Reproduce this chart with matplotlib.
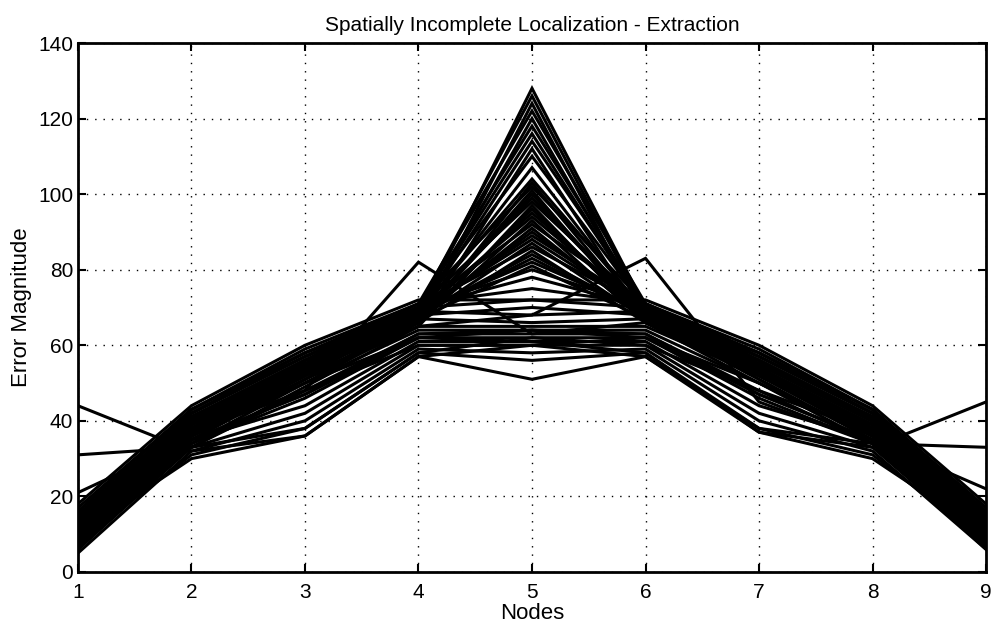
"""Spatially incomplete localization - extraction error curves over 9 nodes."""
import matplotlib

matplotlib.use("Agg")
import matplotlib.pyplot as plt  # noqa: E402

nodes = [1, 2, 3, 4, 5, 6, 7, 8, 9]

# curves with a sharp peak at node 5
peak_curves = [
    [9, 36, 52, 68, 128, 70, 54, 38, 10],
    [11, 38, 54, 70, 126, 69, 53, 37, 12],
    [7, 34, 50, 66, 124, 67, 51, 35, 8],
    [13, 40, 56, 71, 122, 71, 56, 40, 14],
    [8, 35, 51, 67, 120, 68, 52, 36, 9],
    [15, 42, 57, 70, 118, 70, 57, 42, 16],
    [10, 37, 53, 69, 116, 69, 53, 38, 11],
    [12, 39, 55, 68, 114, 70, 55, 40, 12],
    [6, 33, 49, 65, 112, 66, 50, 34, 7],
    [14, 41, 56, 70, 110, 70, 56, 41, 15],
    [9, 36, 52, 68, 107, 68, 52, 37, 10],
    [11, 38, 54, 69, 104, 69, 54, 38, 12],
    [12, 39, 54, 66, 103, 67, 54, 39, 12],
    [16, 43, 58, 71, 102, 71, 58, 43, 17],
    [13, 40, 55, 67, 101, 66, 55, 40, 13],
    [10, 37, 53, 67, 100, 68, 53, 37, 10],
    [11, 38, 54, 68, 99, 68, 54, 38, 11],
    [13, 40, 55, 70, 98, 70, 55, 40, 13],
    [9, 36, 52, 65, 97, 66, 52, 36, 9],
    [8, 35, 51, 66, 96, 67, 51, 35, 9],
    [14, 41, 56, 68, 95, 69, 56, 41, 14],
    [12, 39, 54, 69, 94, 69, 54, 39, 12],
    [10, 37, 53, 66, 93, 66, 53, 37, 10],
    [15, 42, 57, 70, 92, 71, 57, 42, 15],
    [11, 38, 53, 67, 91, 67, 53, 38, 11],
    [9, 36, 52, 68, 90, 68, 52, 36, 9],
    [13, 40, 55, 69, 89, 70, 55, 40, 13],
    [11, 38, 53, 69, 88, 69, 53, 38, 11],
    [12, 39, 54, 67, 87, 67, 54, 39, 12],
    [14, 41, 56, 70, 86, 70, 56, 41, 14],
    [10, 37, 53, 66, 85, 66, 53, 37, 10],
    [10, 37, 52, 68, 84, 68, 52, 37, 10],
    [13, 40, 55, 68, 83, 68, 55, 40, 13],
    [12, 40, 55, 69, 82, 69, 55, 40, 12],
    [11, 39, 54, 67, 81, 67, 54, 39, 11],
    [13, 41, 55, 70, 80, 70, 55, 41, 13],
]

# curves that stay flat-ish between nodes 4 and 6
plateau_curves = [
    [14, 42, 58, 70, 78, 70, 58, 42, 14],
    [16, 43, 59, 71, 75, 71, 59, 43, 16],
    [18, 44, 60, 72, 72, 72, 60, 44, 18],
    [15, 42, 57, 70, 72, 70, 57, 42, 15],
    [12, 40, 55, 68, 70, 68, 55, 40, 12],
    [17, 43, 58, 69, 68, 69, 58, 43, 17],
    [13, 41, 56, 67, 66, 67, 56, 41, 13],
    [10, 38, 52, 65, 65, 65, 52, 38, 10],
    [8, 36, 50, 64, 64, 64, 50, 36, 8],
    [11, 37, 48, 63, 63, 63, 48, 37, 11],
    [6, 34, 46, 62, 62, 62, 46, 34, 6],
    [9, 35, 44, 61, 61, 61, 44, 35, 9],
    [7, 33, 42, 60, 60, 60, 42, 33, 7],
    [5, 32, 40, 59, 58, 59, 40, 32, 6],
    [8, 31, 38, 58, 56, 58, 38, 31, 8],
    [10, 30, 36, 57, 51, 57, 37, 30, 10],
]

# odd ones: side peaks at node 4 / 6 and raised end points
outlier_curves = [
    [9, 33, 48, 82, 63, 66, 52, 37, 10],
    [10, 36, 51, 65, 68, 83, 45, 34, 9],
    [44, 32, 36, 57, 60, 62, 50, 36, 10],
    [31, 33, 38, 58, 62, 60, 48, 34, 8],
    [21, 35, 47, 62, 64, 63, 47, 35, 11],
    [10, 36, 50, 62, 61, 58, 37, 33, 45],
    [8, 34, 48, 60, 60, 57, 38, 34, 33],
    [12, 35, 47, 63, 64, 62, 47, 35, 22],
]

plt.rcParams["font.family"] = ["Liberation Sans", "DejaVu Sans"]

fig = plt.figure(figsize=(9.93, 6.26), dpi=100)
ax = fig.add_axes([0.0785, 0.0863, 0.9145, 0.845])

for curve in peak_curves + plateau_curves + outlier_curves:
    ax.plot(nodes, curve, color="black", lw=2.2, solid_joinstyle="miter")

ax.set_xlim(1, 9)
ax.set_ylim(0, 140)
ax.set_xticks(nodes)
ax.set_yticks(range(0, 141, 20))
ax.grid(True, color="black", linestyle=(0, (1, 5)), linewidth=1.0)
ax.tick_params(direction="in", top=True, right=True, length=6, width=1.5,
               labelsize=15)
ax.tick_params(axis="x", pad=8)
for s in ax.spines.values():
    s.set_linewidth(2.0)

ax.set_title("Spatially Incomplete Localization - Extraction", fontsize=15,
             pad=9)
ax.set_xlabel("Nodes", fontsize=16, labelpad=1)
ax.set_ylabel("Error Magnitude", fontsize=16, labelpad=4)

fig.savefig("out.png", dpi=100)
